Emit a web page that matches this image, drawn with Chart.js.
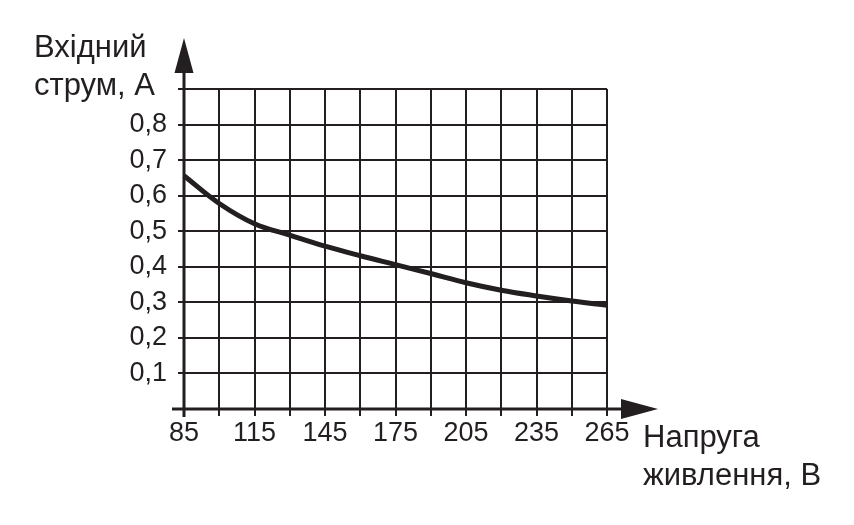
<!DOCTYPE html>
<html>
<head>
<meta charset="utf-8">
<script src="https://cdn.jsdelivr.net/npm/chart.js@4"></script>
<style>
  body { margin: 0; background: #fff; }
  #wrap { position: relative; width: 854px; height: 525px; }
  .ttl {
    position: absolute;
    font-family: "Liberation Sans", Arial, sans-serif;
    font-size: 31px;
    line-height: 38px;
    color: #231f20;
    white-space: nowrap;
  }
</style>
</head>
<body>
<div id="wrap">
  <canvas id="chart" width="854" height="525"></canvas>
  <div class="ttl" style="left:34px; top:28px;">Вхідний<br>струм, А</div>
  <div class="ttl" style="left:643px; top:418px;">Напруга<br>живлення, В</div>
</div>
<script>
// voltage points (every grid step) and current
const voltage = [85, 100, 115, 130, 145, 160, 175, 190, 205, 220, 235, 250, 265];
const current = [0.656, 0.578, 0.521, 0.489, 0.458, 0.431, 0.406, 0.381, 0.355, 0.334, 0.318, 0.304, 0.292];
const xLabels = [85, 115, 145, 175, 205, 235, 265];
const yLabels = [0.1, 0.2, 0.3, 0.4, 0.5, 0.6, 0.7, 0.8];

const INK = "#231f20";

// axis lines with arrow heads, drawn over the grid
const arrowAxes = {
  id: "arrowAxes",
  afterDraw(chart) {
    const { ctx, chartArea: a } = chart;
    const x0 = chart.scales.x.getPixelForValue(85);
    const y0 = chart.scales.y.getPixelForValue(0);
    ctx.save();
    ctx.strokeStyle = INK;
    ctx.fillStyle = INK;
    ctx.lineWidth = 3;
    // x axis
    ctx.beginPath();
    ctx.moveTo(x0 - 12, y0);
    ctx.lineTo(a.right + 18, y0);
    ctx.stroke();
    ctx.beginPath();
    ctx.moveTo(a.right + 14, y0 - 10);
    ctx.lineTo(a.right + 51, y0);
    ctx.lineTo(a.right + 14, y0 + 10);
    ctx.closePath();
    ctx.fill();
    // y axis
    ctx.beginPath();
    ctx.moveTo(x0, y0 + 8);
    ctx.lineTo(x0, a.top - 20);
    ctx.stroke();
    ctx.beginPath();
    ctx.moveTo(x0 - 9.5, a.top - 16);
    ctx.lineTo(x0, a.top - 51);
    ctx.lineTo(x0 + 9.5, a.top - 16);
    ctx.closePath();
    ctx.fill();
    ctx.restore();
  }
};

const tickFont = { family: "'Liberation Sans', Arial, sans-serif", size: 27 };

new Chart(document.getElementById("chart"), {
  type: "line",
  data: {
    labels: voltage,
    datasets: [{
      data: voltage.map((v, i) => ({ x: v, y: current[i] })),
      borderColor: INK,
      borderWidth: 5,
      pointRadius: 0,
      tension: 0.4,
      clip: false
    }]
  },
  options: {
    responsive: false,
    devicePixelRatio: 1,
    animation: false,
    layout: { padding: { left: 0, top: 89, right: 247, bottom: 0 } },
    plugins: { legend: { display: false }, tooltip: { enabled: false } },
    scales: {
      x: {
        type: "linear",
        min: 85,
        max: 265,
        afterFit: s => { s.height = 116; },
        afterBuildTicks: s => { s.ticks = voltage.map(v => ({ value: v })); },
        grid: { color: INK, lineWidth: 2, tickLength: 7 },
        border: { display: false },
        ticks: {
          padding: 1,
          color: INK,
          maxRotation: 0,
          autoSkip: false,
          font: tickFont,
          callback: v => xLabels.includes(v) ? String(v) : ""
        }
      },
      y: {
        min: 0,
        max: 0.9,
        afterFit: s => { s.width = 184; },
        afterBuildTicks: s => {
          s.ticks = [0, ...yLabels, 0.9].map(v => ({ value: v }));
        },
        grid: { color: INK, lineWidth: 2, tickLength: 6 },
        border: { display: false },
        ticks: {
          padding: 11,
          color: INK,
          autoSkip: false,
          font: tickFont,
          callback: v => yLabels.includes(v) ? v.toFixed(1).replace(".", ",") : ""
        }
      }
    }
  },
  plugins: [arrowAxes]
});
</script>
</body>
</html>
